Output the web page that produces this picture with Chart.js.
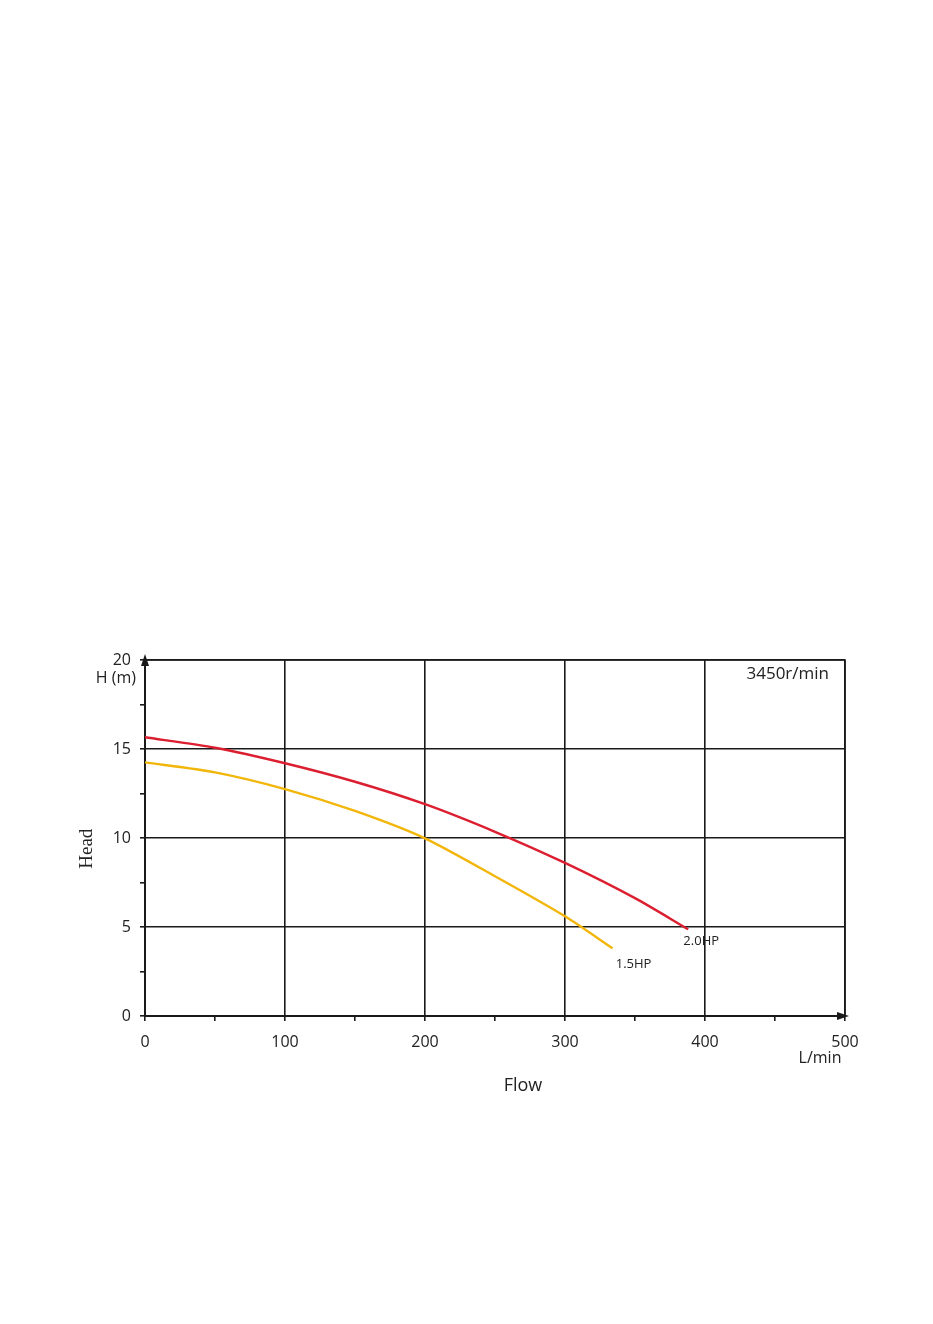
<!DOCTYPE html>
<html>
<head>
<meta charset="utf-8">
<script src="https://cdn.jsdelivr.net/npm/chart.js@4.4.1/dist/chart.umd.min.js"></script>
<style>
html,body{margin:0;padding:0;background:#fff;}
canvas{display:block;}
</style>
</head>
<body>
<canvas id="c" width="933" height="1324"></canvas>
<script>
// Data
const flow20 = [0, 50, 100, 150, 200, 250, 300, 350, 388];
const head20 = [15.66, 15.07, 14.2, 13.16, 11.9, 10.35, 8.6, 6.62, 4.87];
const flow15 = [0, 50, 100, 150, 200, 250, 300, 334];
const head15 = [14.25, 13.69, 12.75, 11.52, 9.98, 7.85, 5.6, 3.8];
const xTicks = [0, 100, 200, 300, 400, 500];
const yTicks = [0, 5, 10, 15, 20];
const seriesNames = ['2.0HP', '1.5HP'];

const FONT = "'Open Sans', 'Liberation Sans', sans-serif";
const INK = '#1a1a1a';

const decor = {
  id: 'decor',
  afterDraw(chart) {
    const {ctx, chartArea: a, scales: {x, y}} = chart;
    ctx.save();
    ctx.strokeStyle = INK; ctx.lineWidth = 1.6;
    ctx.beginPath();
    ctx.moveTo(a.left, a.top); ctx.lineTo(a.right, a.top); ctx.lineTo(a.right, a.bottom);
    ctx.stroke();
    ctx.fillStyle = INK;
    ctx.beginPath();
    ctx.moveTo(a.left, a.top - 6); ctx.lineTo(a.left - 4, a.top + 6); ctx.lineTo(a.left + 4, a.top + 6); ctx.closePath(); ctx.fill();
    ctx.beginPath();
    ctx.moveTo(a.right + 4, a.bottom); ctx.lineTo(a.right - 8, a.bottom - 4); ctx.lineTo(a.right - 8, a.bottom + 4); ctx.closePath(); ctx.fill();
    ctx.fillStyle = '#222';
    ctx.textBaseline = 'middle';
    ctx.font = "16px " + FONT;
    ctx.textAlign = 'right';
    ctx.fillText('H (m)', a.left - 9, a.top + 18);
    ctx.textAlign = 'center';
    ctx.fillText('L/min', a.right - 25, a.bottom + 42);
    ctx.font = "18px " + FONT;
    ctx.fillText('Flow', (x.getPixelForValue(250) + 28), a.bottom + 70);
    ctx.font = "17px " + FONT;
    ctx.textAlign = 'right';
    ctx.fillText('3450r/min', a.right - 16, a.top + 14);
    ctx.font = "13px " + FONT;
    ctx.textAlign = 'center';
    const e20 = flow20.length - 1, e15 = flow15.length - 1;
    ctx.fillText(seriesNames[0], x.getPixelForValue(flow20[e20]) + 13, y.getPixelForValue(head20[e20]) + 12);
    ctx.fillText(seriesNames[1], x.getPixelForValue(flow15[e15]) + 21, y.getPixelForValue(head15[e15]) + 16);
    ctx.save();
    ctx.translate(87, y.getPixelForValue(9.4));
    ctx.rotate(-Math.PI / 2);
    ctx.font = "19px 'Liberation Serif', 'DejaVu Serif', serif";
    ctx.fillText('Head', 0, 0);
    ctx.restore();
    ctx.restore();
  }
};

new Chart(document.getElementById('c'), {
  type: 'scatter',
  data: {
    datasets: [
      {
        label: seriesNames[0],
        data: flow20.map((f, i) => ({x: f, y: head20[i]})),
        showLine: true, borderColor: '#dc1f30', borderWidth: 2.4,
        pointRadius: 0, tension: 0.25, fill: false
      },
      {
        label: seriesNames[1],
        data: flow15.map((f, i) => ({x: f, y: head15[i]})),
        showLine: true, borderColor: '#f2b60a', borderWidth: 2.4,
        pointRadius: 0, tension: 0.25, fill: false
      }
    ]
  },
  options: {
    responsive: false,
    animation: false,
    devicePixelRatio: 1,
    layout: {padding: {left: 0, top: 660, right: 88, bottom: 0}},
    plugins: {legend: {display: false}, tooltip: {enabled: false}},
    scales: {
      x: {
        type: 'linear', min: 0, max: 500,
        afterFit(s) { s.height = 308; },
        afterBuildTicks(s) { const t = []; for (let v = 0; v <= 500; v += 50) t.push({value: v}); s.ticks = t; },
        ticks: {
          autoSkip: false, maxRotation: 0, padding: 12, color: '#222',
          font: {family: FONT, size: 16},
          callback: v => xTicks.includes(v) ? String(v) : ''
        },
        grid: {
          color: c => (c.tick && xTicks.includes(c.tick.value) && c.tick.value !== 0) ? INK : 'rgba(0,0,0,0)',
          tickColor: INK, tickLength: 5, lineWidth: 1.6, drawTicks: true
        },
        border: {color: INK, width: 2}
      },
      y: {
        type: 'linear', min: 0, max: 20,
        afterFit(s) { s.width = 145; },
        afterBuildTicks(s) { const t = []; for (let v = 0; v <= 20; v += 2.5) t.push({value: v}); s.ticks = t; },
        ticks: {
          autoSkip: false, padding: 9, color: '#222',
          font: {family: FONT, size: 16},
          callback: v => yTicks.includes(v) ? String(v) : ''
        },
        grid: {
          color: c => (c.tick && yTicks.includes(c.tick.value) && c.tick.value !== 0) ? INK : 'rgba(0,0,0,0)',
          tickColor: INK, tickLength: 5, lineWidth: 1.6, drawTicks: true
        },
        border: {color: INK, width: 2}
      }
    }
  },
  plugins: [decor]
});
</script>
</body>
</html>
